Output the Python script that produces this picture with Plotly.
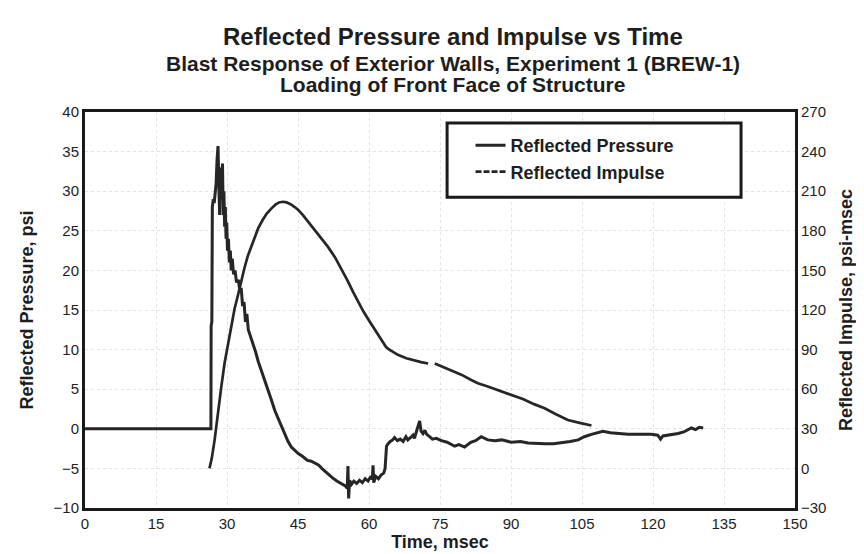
import plotly.graph_objects as go

# Reflected pressure (psi) vs time (msec)
pressure_t = [0, 26.6, 26.65, 26.8, 26.9, 27.1, 27.3, 27.5, 27.7, 27.9, 28.1, 28.3, 28.45, 28.6, 28.75,
              28.9, 29.05, 29.2, 29.35, 29.5, 29.65, 29.8, 29.95, 30.1, 30.3, 30.5, 30.7, 30.9, 31.1, 31.4,
              31.7, 32.0, 32.4, 32.7, 33.0, 33.3, 33.6, 33.9, 34.2, 34.5, 34.8, 35.2, 35.6, 36.0, 36.6,
              37.3, 38.0, 38.7, 39.4, 40.1, 40.8, 41.5, 42.2, 42.9, 43.6, 44.3, 45.0, 46.0, 47.0, 47.8,
              48.6, 49.4, 50.2, 51.3, 52.3, 53.2, 54.2, 55.0, 55.4, 55.55, 55.7, 55.9, 56.3, 56.8, 57.4,
              58.0, 58.6, 59.2, 59.8, 60.4, 60.7, 60.85, 61.0, 61.4, 62.0, 62.6, 63.1, 63.4, 63.7, 64.0,
              64.5, 65.0, 65.4, 66.0, 66.6, 67.2, 67.8, 68.2, 68.8, 69.3, 69.6, 70.0, 70.4, 70.7, 71.0,
              71.4, 71.8, 72.2, 72.8, 73.4, 74.2, 75.3, 76.5, 78.1, 79.0, 80.2, 81.5, 82.5, 83.7, 85.1,
              86.6, 88.0, 90.1, 92.0, 93.6, 95.5, 97.1, 99.0, 100.6, 102.5, 104.2, 105.5, 107.0, 108.2,
              109.4, 111.0, 113.0, 114.7, 117.0, 119.6, 121.0, 121.6, 122.1, 123.5, 125.3, 126.5, 127.4,
              128.1, 129.0, 129.8, 130.6]
pressure_psi = [0, 0, 13, 13.5, 28, 29, 28.5, 30, 31, 34, 35.7, 30, 27, 33, 29,
                31.5, 33.5, 27, 30, 25.5, 28, 24, 26, 22.5, 24, 21, 22.5, 20, 21.5, 19.5,
                20, 18.5, 18.8, 17.5, 17.8, 15.5, 16, 13.5, 14.5, 12.5, 12.0, 11.2, 10.5, 9.8, 8.5,
                7.2, 6.0, 4.7, 3.6, 2.3, 1.3, 0.4, -0.7, -1.6, -2.3, -2.7, -3.1, -3.5, -4.0, -4.1,
                -4.3, -4.6, -5.1, -5.7, -6.2, -6.6, -6.9, -7.2, -7.5, -4.7, -8.8, -6.5, -7.0, -6.6, -6.9,
                -6.5, -6.8, -6.3, -6.6, -6.0, -6.4, -4.6, -6.8, -6.0, -6.3, -5.8, -5.6, -5.0, -2.2, -1.9,
                -1.6, -1.4, -1.1, -1.5, -1.3, -1.6, -1.0, -1.4, -1.1, -0.8, -1.2, -0.5, 0.2, 1.0, -0.3,
                -0.6, -0.2, -0.7, -1.0, -1.3, -1.2, -1.5, -1.7, -2.2, -2.0, -2.3, -1.7, -1.5, -1.0, -1.4,
                -1.5, -1.4, -1.7, -1.6, -1.8, -1.9, -1.9, -1.9, -1.8, -1.6, -1.4, -1.0, -0.7, -0.5,
                -0.3, -0.5, -0.6, -0.7, -0.7, -0.7, -0.8, -1.3, -0.9, -0.8, -0.6, -0.4, -0.1,
                0.1, -0.1, 0.2, 0.1]

# Reflected impulse (psi-msec) vs time (msec); None marks the small gap in the trace
impulse_t = [26.3, 26.8, 27.4, 28.1, 28.8, 29.5, 30.2, 31.0, 31.6, 32.3, 33.0, 33.7, 34.4, 35.2, 35.9,
             36.6, 37.5, 38.4, 39.4, 40.3, 41.0, 41.8, 42.6, 43.5, 44.3, 45.0, 46.0, 47.1, 48.5, 49.9,
             51.3, 52.8, 54.2, 55.5, 56.6, 57.7, 58.8, 60.0, 61.2, 62.4, 63.6, 64.3, 65.2, 66.1, 67.9,
             69.7, 71.0, 72.5, 73.2, 73.9, 75.6, 77.4, 79.5, 81.6, 83.0, 85.1, 87.5, 90.1, 92.5, 95.0,
             97.1, 99.5, 102.0, 104.5, 107.0]
impulse_val = [0, 8, 22, 43, 62, 80, 94, 110, 121, 131, 142, 152, 161, 169, 176,
               182, 188, 193, 197, 200, 201.5, 202, 201.5, 200, 198, 196, 192, 187, 180, 174,
               168, 160, 151, 142, 134, 126, 119, 112, 105, 98, 92, 90, 88, 86, 83.5,
               81.5, 80.5, 79.5, None, 79.5, 77, 74.5, 71, 67, 64.5, 62, 59, 55.6, 52.5, 48.5,
               45.6, 41, 36.7, 34.5, 32.5]

x_ticks = list(range(0, 151, 15))
left_ticks = list(range(-10, 41, 5))
right_ticks = list(range(-30, 271, 30))

ink = "#262626"
sans = "Liberation Sans, Arial, sans-serif"

fig = go.Figure()
fig.add_trace(go.Scatter(x=pressure_t, y=pressure_psi, mode="lines", name="Reflected Pressure",
                         line=dict(color=ink, width=3)))
# the scanned impulse curve prints as a continuous line; only its key is dashed
fig.add_trace(go.Scatter(x=impulse_t, y=impulse_val, mode="lines", name="Reflected Impulse",
                         yaxis="y2", connectgaps=False, showlegend=False,
                         line=dict(color=ink, width=2.7)))
fig.add_trace(go.Scatter(x=[None], y=[None], mode="lines", name="Reflected Impulse", yaxis="y2",
                         line=dict(color=ink, width=2.6, dash="6px,2px")))

grid = dict(showgrid=True, gridcolor="#e3e3e3", gridwidth=1, griddash="dot")
axis_title_font = dict(family=sans, size=18, weight="bold", color="#1e1e1e")

fig.update_layout(
    width=864, height=554,
    margin=dict(l=77, r=77, t=104, b=54),
    paper_bgcolor="white", plot_bgcolor="white",
    font=dict(family=sans, color="#1e1e1e"),
    showlegend=True,
    legend=dict(x=0.543, y=0.962, xanchor="left", yanchor="top",
                bgcolor="rgba(0,0,0,0)", borderwidth=0,
                font=dict(family=sans, size=18, weight="bold", color="#1e1e1e"),
                tracegroupgap=4),
    xaxis=dict(range=[0, 150], tickvals=x_ticks, ticks="", showline=True, linecolor="#1a1a1a",
               linewidth=3, mirror=True, zeroline=False, tickfont=dict(size=15),
               ticklabelstandoff=0,
               title=dict(text="Time, msec", standoff=0, font=axis_title_font), **grid),
    yaxis=dict(range=[-10, 40], tickvals=left_ticks, ticks="", showline=True, linecolor="#1a1a1a",
               linewidth=3, mirror=True, zeroline=False, tickfont=dict(size=15),
               ticklabelstandoff=0,
               title=dict(text="Reflected Pressure, psi", standoff=16, font=axis_title_font), **grid),
    yaxis2=dict(range=[-30, 270], tickvals=right_ticks, overlaying="y", side="right", ticks="",
                showline=True, linecolor="#1a1a1a", linewidth=3, showgrid=False, zeroline=False,
                tickfont=dict(size=15), ticklabelstandoff=0,
                title=dict(text="Reflected Impulse, psi-msec", standoff=14, font=axis_title_font)),
)

# legend frame, drawn as in the original (wider than the entries)
fig.add_shape(type="rect", xref="paper", yref="paper", x0=0.51, x1=0.924, y0=0.785, y1=0.972,
              fillcolor="white", line=dict(color="#1a1a1a", width=3), layer="above")

titles = [("Reflected Pressure and Impulse vs Time", 24, 1.19),
          ("Blast Response of Exterior Walls, Experiment 1 (BREW-1)", 21, 1.122),
          ("Loading of Front Face of Structure", 21, 1.07)]
for text, size, ypos in titles:
    fig.add_annotation(text=text, xref="paper", yref="paper", x=0.518, y=ypos,
                       xanchor="center", yanchor="middle", showarrow=False,
                       font=dict(family=sans, size=size, weight="bold", color="#1e1e1e"))

fig.write_html("out.html")
